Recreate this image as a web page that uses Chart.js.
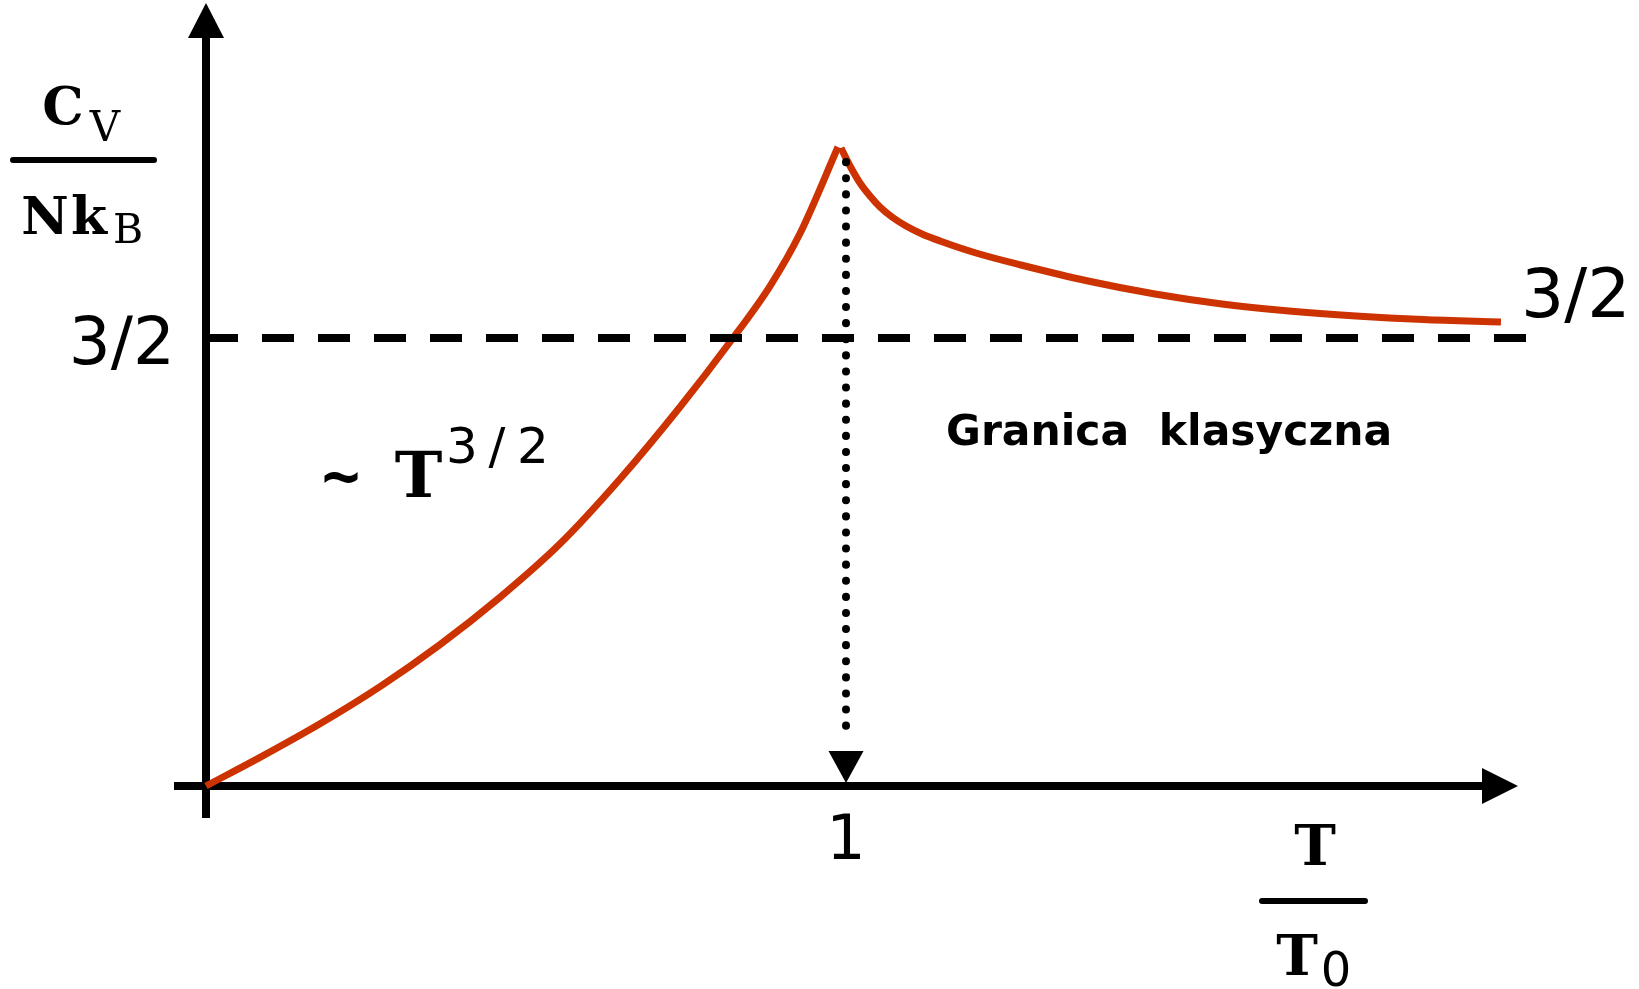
<!DOCTYPE html>
<html>
<head>
<meta charset="utf-8">
<script src="https://cdn.jsdelivr.net/npm/chart.js@4"></script>
<style>
  html, body { margin: 0; padding: 0; background: #fff; }
  #wrap { width: 1639px; height: 989px; }
</style>
</head>
<body>
<div id="wrap"><canvas id="cv-chart" width="1639" height="989"></canvas></div>
<script>
// Heat capacity of an ideal Bose gas against reduced temperature T/T0
const belowT  = [0, 0.0844, 0.1781, 0.2719, 0.3656, 0.4594, 0.5531, 0.6469, 0.7406, 0.8188, 0.8813, 0.9281, 0.9875];
const belowCv = [0, 0.0958, 0.2083, 0.3328, 0.4734, 0.6321, 0.8109, 1.0279, 1.2690, 1.4866, 1.6741, 1.8499, 2.1395];
const aboveT  = [0.9922, 1.0063, 1.0219, 1.0375, 1.0531, 1.0719, 1.0938, 1.1188, 1.1469, 1.2031,
                 1.2734, 1.3781, 1.4828, 1.5875, 1.6922, 1.7969, 1.9016, 2.0234];
const aboveCv = [2.1362, 2.0759, 2.0190, 1.9754, 1.9386, 1.9051, 1.8750, 1.8482, 1.8248, 1.7846,
                 1.7444, 1.6908, 1.6473, 1.6138, 1.5904, 1.5737, 1.5619, 1.5536];
const classicalCv = 1.5;
const criticalT = 1;
const yTickLabel = '3/2';
const xTickLabel = '1';

const RED = '#cc3300';
const toPoints = (xs, ys) => xs.map((v, i) => ({ x: v, y: ys[i] }));

function triangle(ctx, tipX, tipY, baseX, baseY, half) {
  const dx = tipX - baseX, dy = tipY - baseY;
  const len = Math.hypot(dx, dy);
  const nx = -dy / len * half, ny = dx / len * half;
  ctx.beginPath();
  ctx.moveTo(tipX, tipY);
  ctx.lineTo(baseX + nx, baseY + ny);
  ctx.lineTo(baseX - nx, baseY - ny);
  ctx.closePath();
  ctx.fill();
}

// arrowed axes, drawn under the curves
const axesPlugin = {
  id: 'arrowAxes',
  beforeDatasetsDraw(chart) {
    const { ctx, scales: { x, y } } = chart;
    const x0 = x.getPixelForValue(0), y0 = y.getPixelForValue(0);
    ctx.save();
    ctx.strokeStyle = '#000';
    ctx.fillStyle = '#000';
    ctx.lineWidth = 8;
    ctx.beginPath();
    ctx.moveTo(x0, y.getPixelForValue(-0.107));
    ctx.lineTo(x0, y.getPixelForValue(2.51));
    ctx.moveTo(x.getPixelForValue(-0.05), y0);
    ctx.lineTo(x.getPixelForValue(1.995), y0);
    ctx.stroke();
    triangle(ctx, x0, y.getPixelForValue(2.622), x0, y.getPixelForValue(2.5045), 18);
    triangle(ctx, x.getPixelForValue(2.05), y0, x.getPixelForValue(1.99375), y0, 18);
    ctx.restore();
  },
  afterDatasetsDraw(chart) {
    const { ctx, scales: { x, y } } = chart;
    ctx.save();
    ctx.fillStyle = '#000';
    // arrow head at the foot of the dotted line
    triangle(ctx, x.getPixelForValue(criticalT), y.getPixelForValue(0.01),
      x.getPixelForValue(criticalT), y.getPixelForValue(0.117), 17.5);
    ctx.restore();
  }
};

function text(ctx, str, font, px, py, align) {
  ctx.font = font;
  ctx.textAlign = align || 'left';
  ctx.fillText(str, px, py);
}

const labelPlugin = {
  id: 'labels',
  afterDraw(chart) {
    const { ctx, scales: { x, y } } = chart;
    const x0 = x.getPixelForValue(0), y0 = y.getPixelForValue(0);
    const yc = y.getPixelForValue(classicalCv), xc = x.getPixelForValue(criticalT);
    ctx.save();
    ctx.fillStyle = '#000';
    ctx.strokeStyle = '#000';
    ctx.textBaseline = 'alphabetic';

    text(ctx, yTickLabel, '66px "DejaVu Sans"', x0 - 31, yc + 26, 'right');
    text(ctx, yTickLabel, '68px "DejaVu Sans"', 1521, yc - 21, 'left');
    text(ctx, xTickLabel, '62px "DejaVu Sans"', xc, y0 + 73, 'center');

    text(ctx, 'Granica  klasyczna', 'bold 42.5px "DejaVu Sans"', 946, 445, 'left');

    // ~ T^(3/2)
    text(ctx, '~', 'bold 64px "DejaVu Sans Mono"', 341, 498, 'center');
    text(ctx, 'T', 'bold 64px "DejaVu Serif"', 418.5, 497, 'center');
    text(ctx, '3', '50px "DejaVu Sans"', 462, 463, 'center');
    text(ctx, '/', '50px "DejaVu Sans"', 497, 463, 'center');
    text(ctx, '2', '50px "DejaVu Sans"', 533, 463, 'center');

    // y axis title Cv / NkB
    ctx.lineCap = 'round';
    ctx.lineWidth = 6;
    text(ctx, 'C', 'bold 52px "DejaVu Serif"', 63, 124, 'center');
    text(ctx, 'V', '42px "DejaVu Serif"', 105, 141, 'center');
    ctx.beginPath();
    ctx.moveTo(13, 160);
    ctx.lineTo(154, 160);
    ctx.stroke();
    text(ctx, 'N', 'bold 52px "DejaVu Serif"', 45, 234, 'center');
    text(ctx, 'k', 'bold 52px "DejaVu Serif"', 89, 234, 'center');
    text(ctx, 'B', '41px "DejaVu Serif"', 128, 243, 'center');

    // x axis title T / T0
    text(ctx, 'T', 'bold 56px "DejaVu Serif"', 1315, 865, 'center');
    ctx.beginPath();
    ctx.moveTo(1262, 901);
    ctx.lineTo(1365, 901);
    ctx.stroke();
    text(ctx, 'T', 'bold 56px "DejaVu Serif"', 1297, 975, 'center');
    text(ctx, '0', '48px "DejaVu Sans"', 1336, 986, 'center');
    ctx.restore();
  }
};

new Chart(document.getElementById('cv-chart'), {
  type: 'scatter',
  data: {
    datasets: [
      {
        label: 'classical limit',
        data: [{ x: 0, y: classicalCv }, { x: 2.0625, y: classicalCv }],
        showLine: true,
        borderColor: '#000',
        borderWidth: 8,
        borderDash: [32, 24],
        pointRadius: 0
      },
      {
        label: 'T0',
        data: [{ x: criticalT, y: 2.089 }, { x: criticalT, y: 0.157 }],
        showLine: true,
        borderColor: '#000',
        borderWidth: 8,
        borderDash: [0.1, 16],
        borderCapStyle: 'round',
        pointRadius: 0
      },
      {
        label: 'T < T0',
        data: toPoints(belowT, belowCv),
        showLine: true,
        borderColor: RED,
        borderWidth: 7,
        cubicInterpolationMode: 'monotone',
        pointRadius: 0
      },
      {
        label: 'T > T0',
        data: toPoints(aboveT, aboveCv),
        showLine: true,
        borderColor: RED,
        borderWidth: 7,
        cubicInterpolationMode: 'monotone',
        pointRadius: 0
      }
    ]
  },
  options: {
    responsive: false,
    animation: false,
    devicePixelRatio: 1,
    layout: { padding: 0 },
    plugins: {
      legend: { display: false },
      tooltip: { enabled: false }
    },
    scales: {
      x: { type: 'linear', min: -0.321875, max: 2.2390625, display: false },
      y: { type: 'linear', min: -0.679688, max: 2.631696, display: false }
    }
  },
  plugins: [axesPlugin, labelPlugin]
});
</script>
</body>
</html>
